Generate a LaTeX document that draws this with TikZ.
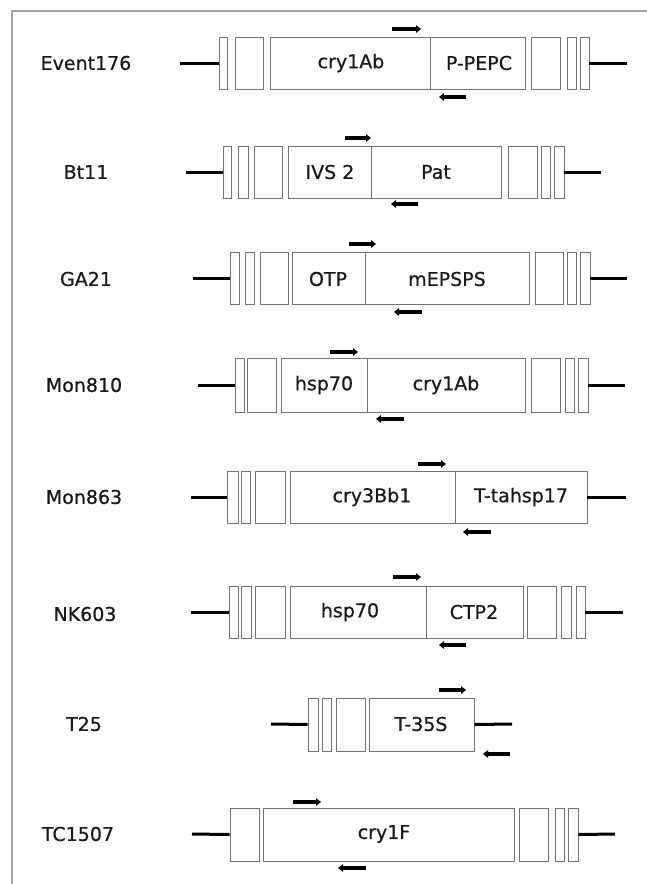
\documentclass[tikz,border=0pt]{standalone}
\usepackage{fontspec}
\setmainfont[FakeBold=0.6]{DejaVu Sans}
\usetikzlibrary{fit,arrows.meta}
\tikzset{
  seg/.style={draw=black!55, line width=0.9pt, inner sep=0pt, rectangle},
  dna/.style={line width=3pt, black},
  div/.style={draw=black!55, line width=0.9pt},
  primer/.style={line width=3.8pt, black, -{Triangle[length=5pt,width=7.5pt]}},
  lab/.style={font=\fontsize{19}{22}\selectfont, text=black!90, inner sep=0pt},
  gene/.style={font=\fontsize{19}{22}\selectfont, text=black!90, inner sep=0pt},
  frame/.style={draw=black!35, line width=1.6pt}
}
\newcommand\bx[5]{\node[seg, fit={(#2,#4) (#3,#5)}] (#1) {};}
\begin{document}
\begin{tikzpicture}[x=1pt,y=-1pt]
\useasboundingbox (0,0) rectangle (647,884);
\fill[white] (0,0) rectangle (647,884);
\draw[frame] (12,884) -- (12,11) -- (647,11);

% ---- Row 1: Event176
\node[lab] (l1) at (86,63) {Event176};
\bx{e1}{219}{227}{37}{89}
\bx{e2}{235}{263}{37}{89}
\bx{e3}{270}{525}{37}{89}
\bx{e4}{531}{560}{37}{89}
\bx{e5}{567}{576}{37}{89}
\bx{e6}{580}{589}{37}{89}
\draw[div] (e3.north -| 430,0) -- (e3.south -| 430,0);
\node[gene] (e3a) at (351,63) {cry1Ab};
\node[gene] (e3b) at (479,63) {P-PEPC};
\coordinate (e1L) at (180,63); \coordinate (e6R) at (627,63);
\draw[dna] (e1L) -- (e1.west); \draw[dna] (e6.east) -- (e6R);
\coordinate (e1fa) at (392,29); \coordinate (e1fb) at (421,29);
\coordinate (e1ra) at (466,97); \coordinate (e1rb) at (439,97);
\draw[primer] (e1fa) -- (e1fb); \draw[primer] (e1ra) -- (e1rb);

% ---- Row 2: Bt11
\node[lab] (l2) at (86,172) {Bt11};
\bx{b1}{223}{231}{146}{198}
\bx{b2}{238}{248}{146}{198}
\bx{b3}{254}{282}{146}{198}
\bx{b4}{288}{501}{146}{198}
\bx{b5}{508}{537}{146}{198}
\bx{b6}{541}{550}{146}{198}
\bx{b7}{554}{564}{146}{198}
\draw[div] (b4.north -| 371,0) -- (b4.south -| 371,0);
\node[gene] (b4a) at (330,172) {IVS 2};
\node[gene] (b4b) at (436,172) {Pat};
\coordinate (b1L) at (186,172); \coordinate (b7R) at (601,172);
\draw[dna] (b1L) -- (b1.west); \draw[dna] (b7.east) -- (b7R);
\coordinate (b1fa) at (345,138); \coordinate (b1fb) at (371,138);
\coordinate (b1ra) at (418,204); \coordinate (b1rb) at (391,204);
\draw[primer] (b1fa) -- (b1fb); \draw[primer] (b1ra) -- (b1rb);

% ---- Row 3: GA21
\node[lab] (l3) at (86,279) {GA21};
\bx{g1}{230}{239}{252}{304}
\bx{g2}{245}{254}{252}{304}
\bx{g3}{260}{288}{252}{304}
\bx{g4}{292}{529}{252}{304}
\bx{g5}{535}{563}{252}{304}
\bx{g6}{567}{576}{252}{304}
\bx{g7}{580}{590}{252}{304}
\draw[div] (g4.north -| 365,0) -- (g4.south -| 365,0);
\node[gene] (g4a) at (328,279) {OTP};
\node[gene] (g4b) at (447,279) {mEPSPS};
\coordinate (g1L) at (193,278); \coordinate (g7R) at (627,278);
\draw[dna] (g1L) -- (g1.west); \draw[dna] (g7.east) -- (g7R);
\coordinate (g1fa) at (349,244); \coordinate (g1fb) at (376,244);
\coordinate (g1ra) at (422,312); \coordinate (g1rb) at (394,312);
\draw[primer] (g1fa) -- (g1fb); \draw[primer] (g1ra) -- (g1rb);

% ---- Row 4: Mon810
\node[lab] (l4) at (84,385) {Mon810};
\bx{m1}{235}{244}{358}{412}
\bx{m2}{247}{276}{358}{412}
\bx{m3}{281}{525}{358}{412}
\bx{m4}{531}{560}{358}{412}
\bx{m5}{565}{574}{358}{412}
\bx{m6}{578}{588}{358}{412}
\draw[div] (m3.north -| 367,0) -- (m3.south -| 367,0);
\node[gene] (m3a) at (324,385) {hsp70};
\node[gene] (m3b) at (446,385) {cry1Ab};
\coordinate (m1L) at (198,385); \coordinate (m6R) at (625,385);
\draw[dna] (m1L) -- (m1.west); \draw[dna] (m6.east) -- (m6R);
\coordinate (m1fa) at (330,352); \coordinate (m1fb) at (358,352);
\coordinate (m1ra) at (404,419); \coordinate (m1rb) at (376,419);
\draw[primer] (m1fa) -- (m1fb); \draw[primer] (m1ra) -- (m1rb);

% ---- Row 5: Mon863
\node[lab] (l5) at (84,497) {Mon863};
\bx{n1}{227}{238}{471}{523}
\bx{n2}{241}{250}{471}{523}
\bx{n3}{255}{285}{471}{523}
\bx{n4}{290}{587}{471}{523}
\draw[div] (n4.north -| 455,0) -- (n4.south -| 455,0);
\node[gene] (n4a) at (372,497) {cry3Bb1};
\node[gene] (n4b) at (521,497) {T-tahsp17};
\coordinate (n1L) at (191,497); \coordinate (n4R) at (626,497);
\draw[dna] (n1L) -- (n1.west); \draw[dna] (n4.east) -- (n4R);
\coordinate (n1fa) at (418,464); \coordinate (n1fb) at (446,464);
\coordinate (n1ra) at (491,532); \coordinate (n1rb) at (463,532);
\draw[primer] (n1fa) -- (n1fb); \draw[primer] (n1ra) -- (n1rb);

% ---- Row 6: NK603
\node[lab] (l6) at (85,614) {NK603};
\bx{k1}{229}{238}{586}{638}
\bx{k2}{241}{251}{586}{638}
\bx{k3}{255}{285}{586}{638}
\bx{k4}{290}{523}{586}{638}
\bx{k5}{527}{556}{586}{638}
\bx{k6}{561}{571}{586}{638}
\bx{k7}{576}{585}{586}{638}
\draw[div] (k4.north -| 426,0) -- (k4.south -| 426,0);
\node[gene] (k4a) at (350,612) {hsp70};
\node[gene] (k4b) at (474,612) {CTP2};
\coordinate (k1L) at (191,612); \coordinate (k7R) at (623,612);
\draw[dna] (k1L) -- (k1.west); \draw[dna] (k7.east) -- (k7R);
\coordinate (k1fa) at (393,577); \coordinate (k1fb) at (421,577);
\coordinate (k1ra) at (466,645); \coordinate (k1rb) at (439,645);
\draw[primer] (k1fa) -- (k1fb); \draw[primer] (k1ra) -- (k1rb);

% ---- Row 7: T25
\node[lab] (l7) at (84,724) {T25};
\bx{t1}{308}{318}{698}{751}
\bx{t2}{322}{331}{698}{751}
\bx{t3}{336}{365}{698}{751}
\bx{t4}{369}{474}{698}{751}
\node[gene] (t4a) at (421,724) {T-35S};
\coordinate (t1L) at (271,724); \coordinate (t4R) at (512,724);
\draw[dna] (t1L) -- (t1.west); \draw[dna] (t4.east) -- (t4R);
\coordinate (t1fa) at (439,690); \coordinate (t1fb) at (466,690);
\coordinate (t1ra) at (510,754); \coordinate (t1rb) at (483,754);
\draw[primer] (t1fa) -- (t1fb); \draw[primer] (t1ra) -- (t1rb);

% ---- Row 8: TC1507
\node[lab] (l8) at (78,834) {TC1507};
\bx{c1}{230}{259}{808}{861}
\bx{c2}{263}{514}{808}{861}
\bx{c3}{519}{548}{808}{861}
\bx{c4}{555}{564}{808}{861}
\bx{c5}{568}{578}{808}{861}
\node[gene] (c2a) at (384,834) {cry1F};
\coordinate (c1L) at (192,834); \coordinate (c5R) at (615,834);
\draw[dna] (c1L) -- (c1.west); \draw[dna] (c5.east) -- (c5R);
\coordinate (c1fa) at (293,802); \coordinate (c1fb) at (321,802);
\coordinate (c1ra) at (366,868); \coordinate (c1rb) at (338,868);
\draw[primer] (c1fa) -- (c1fb); \draw[primer] (c1ra) -- (c1rb);
\end{tikzpicture}
\end{document}
